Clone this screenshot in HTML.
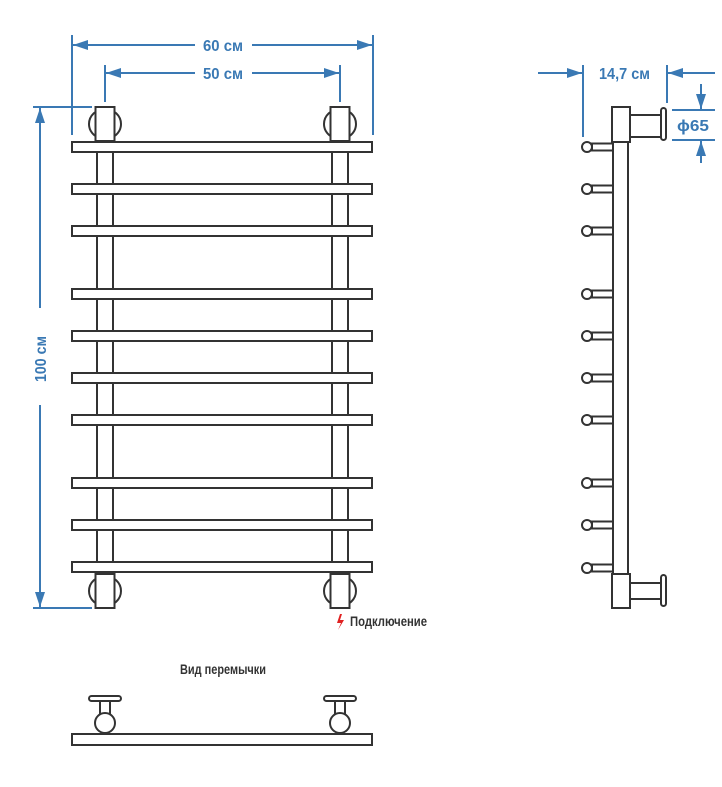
<!DOCTYPE html>
<html><head><meta charset="utf-8"><style>
html,body{margin:0;padding:0;background:#fff;}
svg{display:block;}
text{font-family:"Liberation Sans Narrow","Liberation Sans",sans-serif;font-weight:bold;}
</style></head><body>
<svg width="722" height="787" viewBox="0 0 722 787" xmlns="http://www.w3.org/2000/svg">
<defs>
<g id="cap" fill="#fff" stroke="#333" stroke-width="2">
<ellipse cx="0" cy="0" rx="16" ry="15"/>
<rect x="-9.5" y="-17" width="19" height="34"/>
</g>
<g id="pin" fill="#fff" stroke="#333" stroke-width="2">
<rect x="592" y="-3.5" width="21" height="7"/>
<circle cx="587" cy="0" r="5"/>
</g>
<g id="knob" fill="#fff" stroke="#333" stroke-width="2">
<rect x="-5" y="-32" width="10" height="16"/>
<circle cx="0" cy="-10" r="10"/>
<rect x="-16" y="-37" width="32" height="5" rx="2.5"/>
</g>
</defs>

<g stroke="#3a79b4" stroke-width="2" fill="none">
<line x1="72" y1="35" x2="72" y2="135"/>
<line x1="373" y1="35" x2="373" y2="135"/>
<line x1="72" y1="45" x2="195" y2="45"/><line x1="252" y1="45" x2="373" y2="45"/>
<line x1="105" y1="65" x2="105" y2="102"/>
<line x1="340" y1="65" x2="340" y2="102"/>
<line x1="105" y1="73" x2="195" y2="73"/><line x1="252" y1="73" x2="340" y2="73"/>
<line x1="33" y1="107" x2="92" y2="107"/>
<line x1="33" y1="608" x2="92" y2="608"/>
<line x1="40" y1="107" x2="40" y2="308"/><line x1="40" y1="405" x2="40" y2="608"/>
<line x1="538" y1="73" x2="583" y2="73"/>
<line x1="583" y1="65" x2="583" y2="137"/>
<line x1="667" y1="73" x2="715" y2="73"/>
<line x1="667" y1="65" x2="667" y2="103"/>
<line x1="672" y1="110" x2="715" y2="110"/>
<line x1="672" y1="140" x2="715" y2="140"/>
<line x1="701" y1="84" x2="701" y2="110"/>
<line x1="701" y1="140" x2="701" y2="163"/>
</g>
<g fill="#3a79b4">
<polygon points="73,45 88,40 88,50"/><polygon points="372,45 357,40 357,50"/>
<polygon points="106,73 121,68 121,78"/><polygon points="339,73 324,68 324,78"/>
<polygon points="40,108 35,123 45,123"/><polygon points="40,607 35,592 45,592"/>
<polygon points="582,73 567,68 567,78"/><polygon points="668,73 683,68 683,78"/>
<polygon points="701,109 696,94 706,94"/><polygon points="701,141 696,156 706,156"/>
</g>
<g fill="#3a79b4" font-size="16">
<text x="203" y="51" textLength="40" lengthAdjust="spacingAndGlyphs">60 см</text>
<text x="203" y="79" textLength="40" lengthAdjust="spacingAndGlyphs">50 см</text>
<text x="599" y="79" textLength="51" lengthAdjust="spacingAndGlyphs">14,7 см</text>
<text x="677" y="131" textLength="32" lengthAdjust="spacingAndGlyphs">ϕ65</text>
<text transform="translate(46,382) rotate(-90)" textLength="46" lengthAdjust="spacingAndGlyphs">100 см</text>
</g>

<g fill="#fff" stroke="#333" stroke-width="2">
<rect x="97" y="142" width="16" height="432"/>
<rect x="332" y="142" width="16" height="432"/>
</g>
<use href="#cap" x="105" y="124"/>
<use href="#cap" x="340" y="124"/>
<use href="#cap" x="105" y="591"/>
<use href="#cap" x="340" y="591"/>
<g fill="#fff" stroke="#333" stroke-width="2">
<rect x="72" y="142" width="300" height="10"/>
<rect x="72" y="184" width="300" height="10"/>
<rect x="72" y="226" width="300" height="10"/>
<rect x="72" y="289" width="300" height="10"/>
<rect x="72" y="331" width="300" height="10"/>
<rect x="72" y="373" width="300" height="10"/>
<rect x="72" y="415" width="300" height="10"/>
<rect x="72" y="478" width="300" height="10"/>
<rect x="72" y="520" width="300" height="10"/>
<rect x="72" y="562" width="300" height="10"/>
</g>

<g fill="#fff" stroke="#333" stroke-width="2">
<rect x="613" y="142" width="15" height="433"/>
<rect x="630" y="115" width="31" height="22"/>
<rect x="661" y="108" width="5" height="32" rx="2.5"/>
<rect x="612" y="107" width="18" height="35"/>
<rect x="630" y="583" width="31" height="16"/>
<rect x="661" y="575" width="5" height="31" rx="2.5"/>
<rect x="612" y="574" width="18" height="34"/>
</g>
<use href="#pin" y="147"/><use href="#pin" y="189"/><use href="#pin" y="231"/>
<use href="#pin" y="294"/><use href="#pin" y="336"/><use href="#pin" y="378"/>
<use href="#pin" y="420"/><use href="#pin" y="483"/><use href="#pin" y="525"/>
<use href="#pin" y="568"/>

<polygon points="340,614 337,623 341,623 338,630 344,620 340,620 342,614" fill="#e02020"/>
<text x="350" y="626" font-size="14" fill="#333" textLength="77" lengthAdjust="spacingAndGlyphs">Подключение</text>

<text x="180" y="674" font-size="14" fill="#333" textLength="86" lengthAdjust="spacingAndGlyphs">Вид перемычки</text>
<use href="#knob" x="105" y="733"/>
<use href="#knob" x="340" y="733"/>
<rect x="72" y="734" width="300" height="11" fill="#fff" stroke="#333" stroke-width="2"/>
</svg>
</body></html>
